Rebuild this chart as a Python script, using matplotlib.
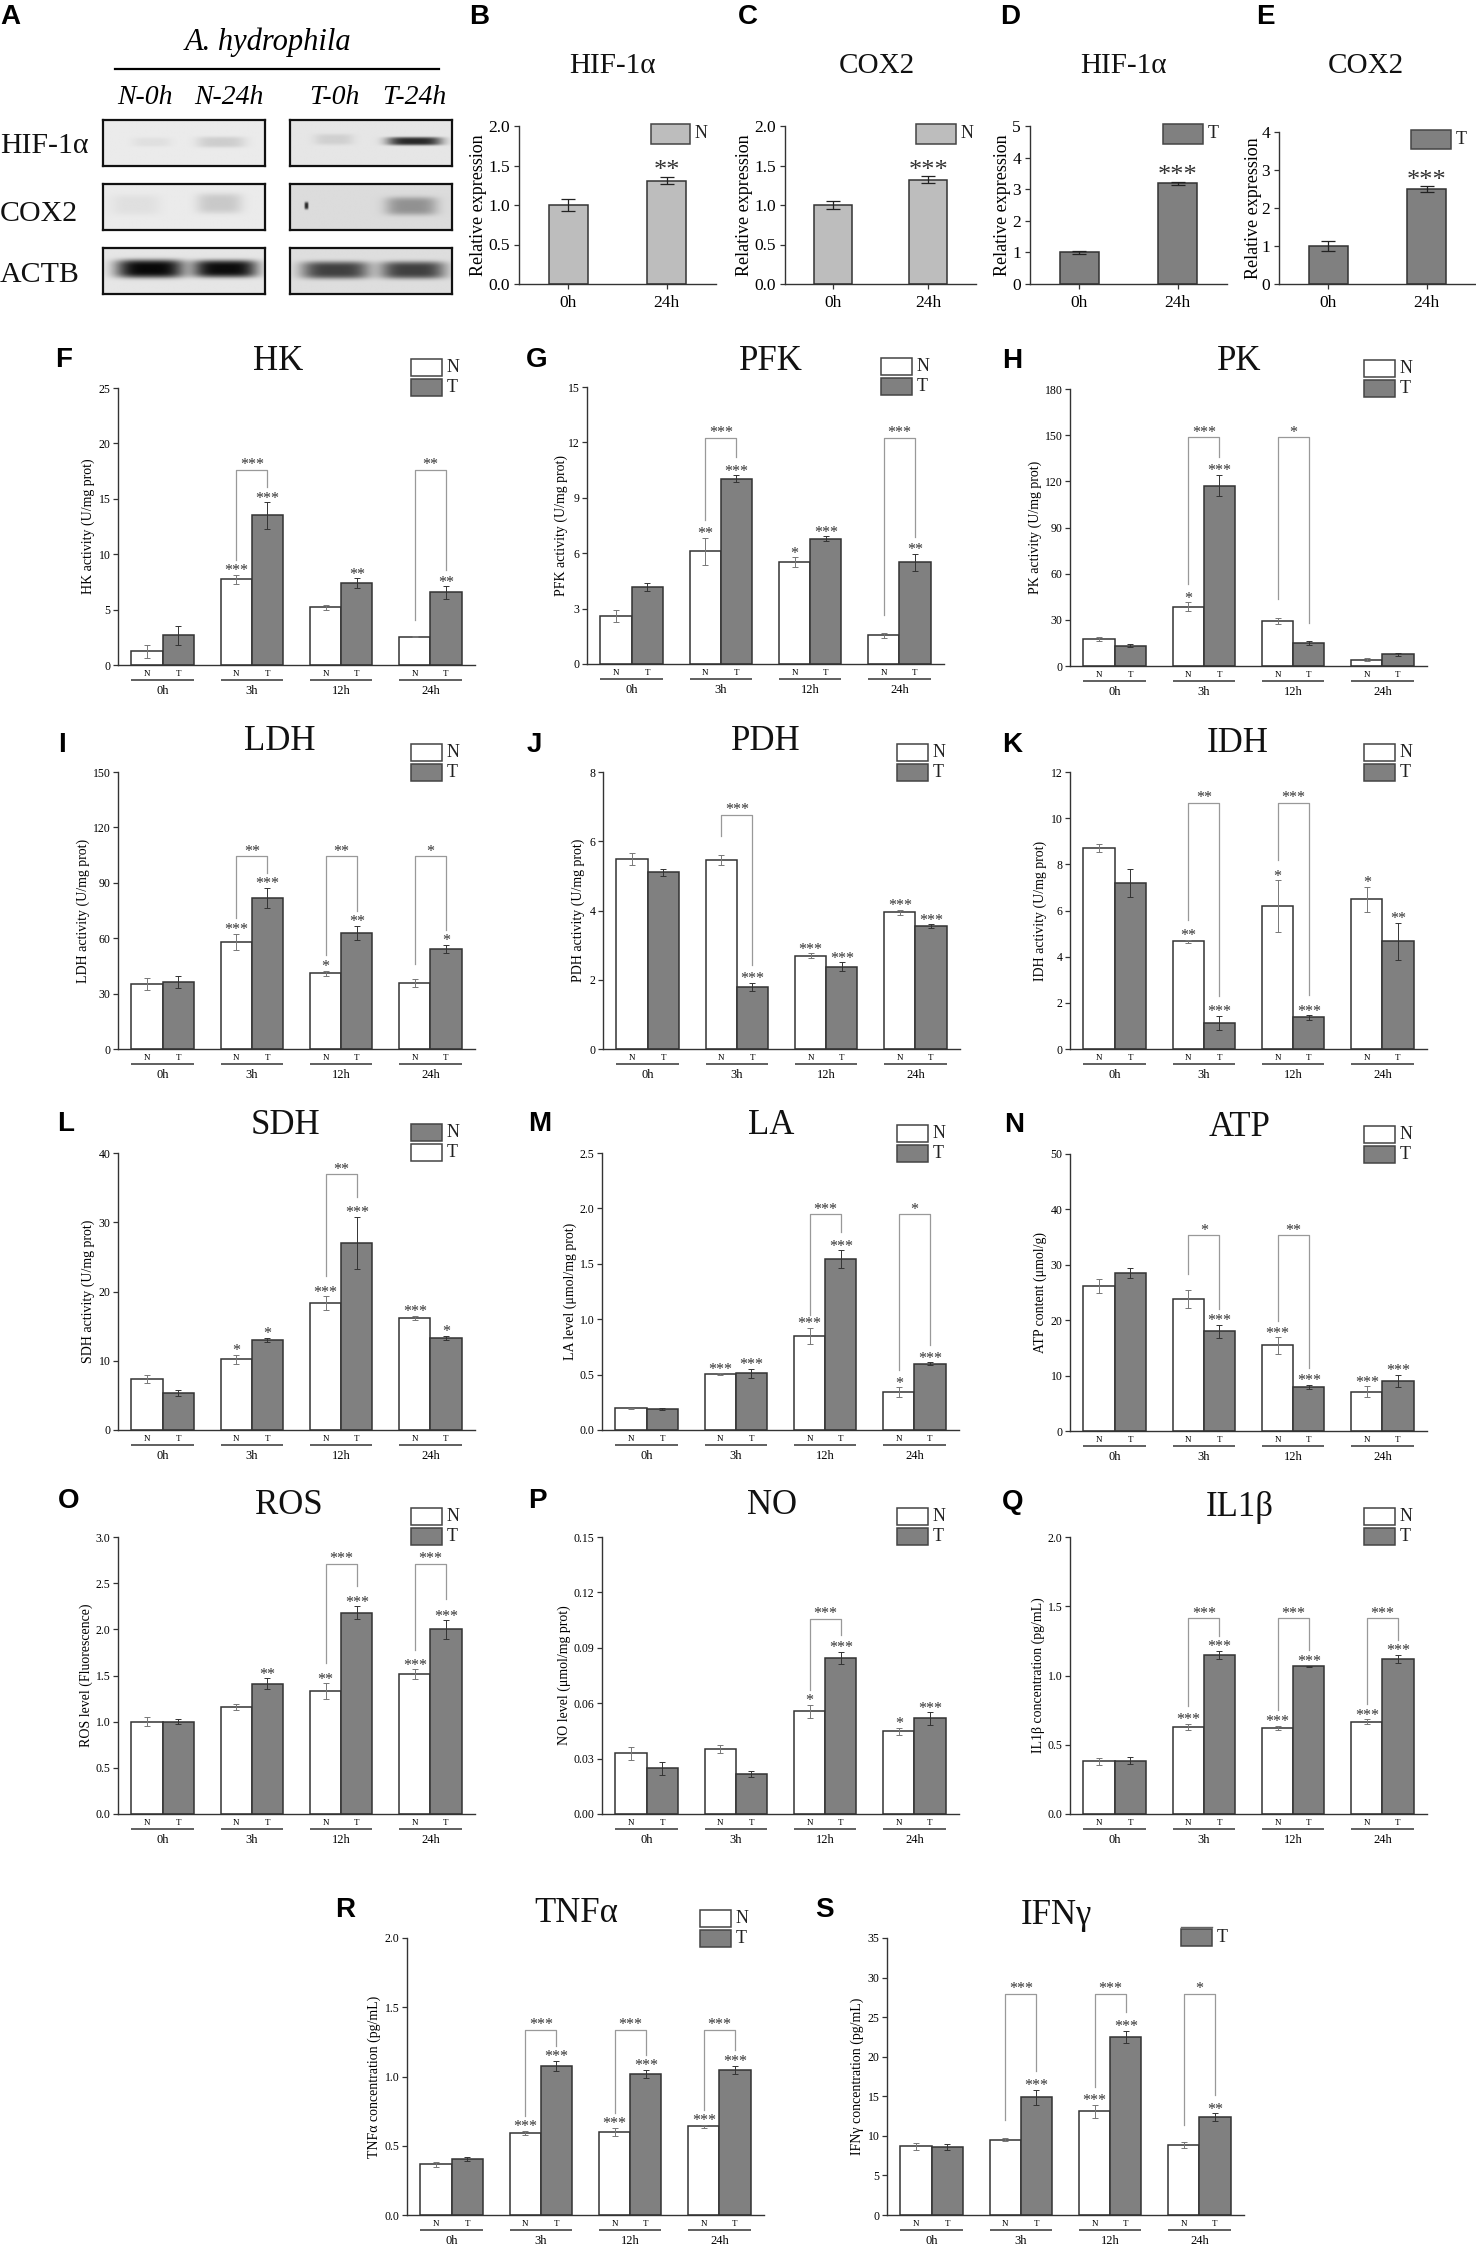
import numpy as np
import matplotlib
matplotlib.use("Agg")
import matplotlib.pyplot as plt
from matplotlib.patches import Rectangle

plt.rcParams['font.family'] = ['Liberation Serif', 'DejaVu Serif']
plt.rcParams['mathtext.default'] = 'regular'

W, H = 1476, 2244
GROUPS = ["0h", "3h", "12h", "24h"]
GRAY = "#808080"
LIGHT = "#bdbdbd"

# small expression charts B-E
b_vals, b_errs, b_sig = [1.0, 1.31], [0.07, 0.05], ["", "**"]
c_vals, c_errs, c_sig = [1.0, 1.32], [0.045, 0.045], ["", "***"]
d_vals, d_errs, d_sig = [1.0, 3.19], [0.06, 0.05], ["", "***"]
e_vals, e_errs, e_sig = [1.0, 2.5], [0.12, 0.07], ["", "***"]

# HK
hk_n = [1.25, 7.75, 5.2, 2.55]
hk_n_err = [0.6, 0.4, 0.2, 0.05]
hk_t = [2.7, 13.5, 7.4, 6.55]
hk_t_err = [0.85, 1.2, 0.45, 0.55]
hk_n_sig = ["", "***", "", ""]
hk_t_sig = ["", "***", "**", "**"]
hk_br = [(1, 17.6, 9.45, 16.1, "***"), (3, 17.6, 4.05, 8.55, "**")]
# PFK
pfk_n = [2.6, 6.1, 5.5, 1.55]
pfk_n_err = [0.3, 0.75, 0.27, 0.15]
pfk_t = [4.16, 10.03, 6.79, 5.5]
pfk_t_err = [0.22, 0.18, 0.13, 0.46]
pfk_n_sig = ["", "**", "*", ""]
pfk_t_sig = ["", "***", "***", "**"]
pfk_br = [(1, 12.25, 7.8, 11.2, "***"), (3, 12.25, 2.67, 6.9, "***")]
# PK
pk_n = [17.5, 38.5, 29.2, 4.1]
pk_n_err = [1.3, 3.0, 2.2, 1.0]
pk_t = [13.2, 117.2, 14.9, 7.6]
pk_t_err = [0.9, 7.0, 1.1, 0.8]
pk_n_sig = ["", "*", "", ""]
pk_t_sig = ["", "***", "", ""]
pk_br = [(1, 148.6, 53.5, 135.8, "***"), (2, 148.6, 43.8, 28, "*")]
# LDH
ldh_n = [35, 58, 41, 35.7]
ldh_n_err = [3.3, 4.3, 1.5, 2.2]
ldh_t = [36.5, 81.8, 62.8, 54.2]
ldh_t_err = [3.2, 5.5, 4.0, 2.2]
ldh_n_sig = ["", "***", "*", ""]
ldh_t_sig = ["", "***", "**", "*"]
ldh_br = [(1, 104.5, 71, 95.3, "**"), (2, 104.5, 51, 74.5, "**"), (3, 104.5, 46.2, 64.6, "*")]
# PDH
pdh_n = [5.48, 5.46, 2.7, 3.95]
pdh_n_err = [0.17, 0.15, 0.07, 0.07]
pdh_t = [5.11, 1.79, 2.38, 3.55]
pdh_t_err = [0.1, 0.12, 0.12, 0.05]
pdh_n_sig = ["", "", "***", "***"]
pdh_t_sig = ["", "***", "***", "***"]
pdh_br = [(1, 6.76, 6.16, 2.43, "***")]
# IDH
idh_n = [8.71, 4.66, 6.18, 6.48]
idh_n_err = [0.19, 0.07, 1.12, 0.54]
idh_t = [7.19, 1.13, 1.37, 4.66]
idh_t_err = [0.62, 0.31, 0.1, 0.8]
idh_n_sig = ["", "**", "*", "*"]
idh_t_sig = ["", "***", "***", "**"]
idh_br = [(1, 10.67, 5.6, 2.31, "**"), (2, 10.67, 8.17, 2.35, "***")]
# SDH
sdh_n = [7.4, 10.25, 18.33, 16.17]
sdh_n_err = [0.6, 0.65, 0.95, 0.35]
sdh_t = [5.39, 13.0, 27.0, 13.28]
sdh_t_err = [0.45, 0.3, 3.8, 0.3]
sdh_n_sig = ["", "*", "***", "***"]
sdh_t_sig = ["", "*", "***", "*"]
sdh_br = [(2, 36.9, 22.3, 33.7, "**")]
# LA
la_n = [0.196, 0.502, 0.848, 0.34]
la_n_err = [0.005, 0.01, 0.075, 0.045]
la_t = [0.19, 0.511, 1.543, 0.6]
la_t_err = [0.01, 0.04, 0.08, 0.01]
la_n_sig = ["", "***", "***", "*"]
la_t_sig = ["", "***", "***", "***"]
la_br = [(2, 1.946, 1.04, 1.784, "***"), (3, 1.946, 0.545, 0.77, "*")]
# ATP
atp_n = [26.2, 23.8, 15.46, 7.1]
atp_n_err = [1.25, 1.6, 1.5, 1.0]
atp_t = [28.5, 18.0, 7.94, 9.03]
atp_t_err = [0.9, 1.15, 0.4, 1.15]
atp_n_sig = ["", "", "***", "***"]
atp_t_sig = ["", "***", "***", "***"]
atp_br = [(1, 35.3, 28.4, 22, "*"), (2, 35.3, 19.8, 11.4, "**")]
# ROS
ros_n = [1.0, 1.16, 1.33, 1.516]
ros_n_err = [0.05, 0.035, 0.085, 0.05]
ros_t = [1.0, 1.41, 2.18, 2.0]
ros_t_err = [0.03, 0.06, 0.07, 0.1]
ros_n_sig = ["", "", "**", "***"]
ros_t_sig = ["", "**", "***", "***"]
ros_br = [(2, 2.71, 1.635, 2.47, "***"), (3, 2.71, 1.78, 2.33, "***")]
# NO
no_n = [0.033, 0.0352, 0.0556, 0.0448]
no_n_err = [0.0035, 0.0022, 0.0035, 0.0018]
no_t = [0.0247, 0.0218, 0.0845, 0.0518]
no_t_err = [0.0036, 0.0017, 0.0034, 0.0034]
no_n_sig = ["", "", "*", "*"]
no_t_sig = ["", "", "***", "***"]
no_br = [(2, 0.1058, 0.0673, 0.097, "***")]
# IL1b
il1_n = [0.38, 0.628, 0.623, 0.667]
il1_n_err = [0.027, 0.025, 0.015, 0.017]
il1_t = [0.385, 1.148, 1.066, 1.119]
il1_t_err = [0.024, 0.03, 0.003, 0.03]
il1_n_sig = ["", "***", "***", "***"]
il1_t_sig = ["", "***", "***", "***"]
il1_br = [(1, 1.413, 0.777, 1.287, "***"), (2, 1.413, 0.753, 1.187, "***"), (3, 1.413, 0.797, 1.259, "***")]
# TNFa
tnf_n = [0.366, 0.594, 0.6, 0.64]
tnf_n_err = [0.017, 0.015, 0.03, 0.01]
tnf_t = [0.404, 1.076, 1.02, 1.049]
tnf_t_err = [0.015, 0.036, 0.029, 0.03]
tnf_n_sig = ["", "***", "***", "***"]
tnf_t_sig = ["", "***", "***", "***"]
tnf_br = [(1, 1.336, 0.717, 1.223, "***"), (2, 1.336, 0.736, 1.158, "***"), (3, 1.336, 0.76, 1.194, "***")]
# IFNg
ifn_n = [8.68, 9.52, 13.1, 8.8]
ifn_n_err = [0.46, 0.2, 0.8, 0.38]
ifn_t = [8.59, 14.87, 22.5, 12.38]
ifn_t_err = [0.42, 0.93, 0.8, 0.5]
ifn_n_sig = ["", "", "***", ""]
ifn_t_sig = ["", "***", "***", "**"]
ifn_br = [(1, 27.97, 12.05, 18.15, "***"), (2, 27.97, 16.2, 25.6, "***"), (3, 27.97, 11.4, 15.2, "*")]

# western blot boxes: background grey, then bands (x, y, half width, half height, darkness)
blot_hif_n = (0.92, [(0.30, 0.48, 0.12, 0.10, 0.05), (0.73, 0.48, 0.15, 0.12, 0.13)])
blot_hif_t = (0.90, [(0.27, 0.42, 0.12, 0.12, 0.10), (0.77, 0.46, 0.17, 0.09, 0.85)])
blot_cox_n = (0.92, [(0.20, 0.45, 0.15, 0.22, 0.05), (0.72, 0.42, 0.14, 0.22, 0.15)])
blot_cox_t = (0.86, [(0.10, 0.47, 0.012, 0.08, 0.85), (0.75, 0.48, 0.16, 0.20, 0.35)])
blot_act_n = (0.90, [(0.29, 0.45, 0.21, 0.20, 1.0), (0.755, 0.45, 0.20, 0.19, 0.98)])
blot_act_t = (0.87, [(0.28, 0.48, 0.21, 0.19, 0.74), (0.76, 0.48, 0.20, 0.19, 0.74)])


def fx(x):
    return x / W


def fy(y):
    return 1 - y / H


fig = plt.figure(figsize=(W / 100, H / 100), dpi=100, facecolor="white")


def make_ax(left, top, right, bottom):
    ax = fig.add_axes([fx(left), fy(bottom), (right - left) / W, (bottom - top) / H])
    ax.spines["top"].set_visible(False)
    ax.spines["right"].set_visible(False)
    ax.spines["left"].set_linewidth(1.0)
    ax.spines["bottom"].set_linewidth(1.0)
    ax.spines["left"].set_color("#333333")
    ax.spines["bottom"].set_color("#333333")
    ax.patch.set_alpha(0)
    return ax


def stars(ax, x, y, txt, gap, size, color="#333333"):
    # the asterisk sits high in the em box, so shift the baseline to centre it
    off = gap * 0.72 - 0.47 * size
    ax.annotate(txt, xy=(x, y), xytext=(0, off), textcoords="offset points",
                ha="center", va="baseline", fontsize=size, color=color, annotation_clip=False)


def legend_box(x0, y0, x1, y1, color, label, size=13):
    fig.add_artist(Rectangle((fx(x0), fy(y1)), (x1 - x0) / W, (y1 - y0) / H, transform=fig.transFigure,
                             facecolor=color, edgecolor="#444444", linewidth=1.1))
    fig.text(fx(x1 + 5), fy((y0 + y1) / 2), label, fontsize=size, ha="left", va="center", color="#222222")


def title_at(x, y, txt, size=25):
    fig.text(fx(x), fy(y + 3), txt, fontsize=size, ha="center", va="center", color="#111111")


def letter(x, y, txt):
    fig.text(fx(x), fy(y + 2), txt, fontsize=20, ha="center", va="center", fontweight="bold",
             family="Liberation Sans", color="black")


def small_panel(rect, vals, errs, sig, color, ymax, step, fmt, label_gap):
    left, top, right, bottom = rect
    ax = make_ax(left, top, right, bottom)
    x = np.arange(2)
    ax.bar(x, vals, 0.4, color=color, edgecolor="#333333", linewidth=1.1)
    ax.errorbar(x, vals, yerr=errs, fmt="none", ecolor="#222222", elinewidth=0.9, capsize=5, capthick=0.9)
    for i in range(2):
        if sig[i]:
            stars(ax, x[i], vals[i] + errs[i], sig[i], 12, 19)
    ax.set_xlim(-0.5, 1.5)
    ax.set_ylim(0, ymax)
    ticks = np.arange(0, ymax + step / 2, step)
    ax.set_yticks(ticks, [fmt % t for t in ticks])
    ax.set_xticks(x, ["0h", "24h"])
    ax.tick_params(axis="both", labelsize=12.5, length=3.5, width=0.9, pad=3, color="#333333")
    ax.tick_params(axis="x", pad=4.5)
    ax.set_ylabel("Relative expression", fontsize=13)
    ax.yaxis.set_label_coords(-(label_gap - 7) / (right - left), 0.5)
    return ax


def time_panel(rect, n, n_err, t, t_err, n_sig, t_sig, brackets, ymax, step, fmt, ylabel, label_gap):
    left, top, right, bottom = rect
    ax = make_ax(left, top, right, bottom)
    hgt = bottom - top
    x = np.arange(4)
    w = 0.35
    xn = x - w / 2
    xt = x + w / 2
    ax.bar(xn, n, w, color="white", edgecolor="#333333", linewidth=1.1, zorder=2)
    ax.bar(xt, t, w, color=GRAY, edgecolor="#333333", linewidth=1.1, zorder=2)
    ax.errorbar(xn, n, yerr=n_err, fmt="none", ecolor="#777777", elinewidth=0.7, capsize=2.5, capthick=0.7, zorder=3)
    ax.errorbar(xt, t, yerr=t_err, fmt="none", ecolor="#333333", elinewidth=0.7, capsize=2.5, capthick=0.7, zorder=3)
    for i in range(4):
        if n_sig[i]:
            stars(ax, xn[i], n[i] + n_err[i], n_sig[i], 7, 11.5)
        if t_sig[i]:
            stars(ax, xt[i], t[i] + t_err[i], t_sig[i], 7, 11.5)
    for g, br_top, br_left, br_right, txt in brackets:
        ax.plot([xn[g], xn[g], xt[g], xt[g]], [br_left, br_top, br_top, br_right],
                color="#999999", linewidth=0.9, clip_on=False, zorder=1)
        stars(ax, x[g], br_top, txt, 8, 11.5)
    ax.set_xlim(-0.5, 3.5)
    ax.set_ylim(0, ymax)
    ticks = np.arange(0, ymax + step / 2, step)
    ax.set_yticks(ticks, [fmt % tk for tk in ticks])
    ax.set_xticks(np.concatenate([xn, xt]), ["N"] * 4 + ["T"] * 4)
    ax.tick_params(axis="y", labelsize=8.5, length=3.5, width=0.9, pad=2, color="#333333")
    ax.tick_params(axis="x", labelsize=6.5, length=0, pad=3.5)
    ax.set_ylabel(ylabel, fontsize=10)
    ax.yaxis.set_label_coords(-(label_gap - 5) / (right - left), 0.5)
    tr = ax.get_xaxis_transform()
    for i in range(4):
        ax.plot([x[i] - w, x[i] + w], [-15 / hgt, -15 / hgt], color="#444444", linewidth=1.2,
                transform=tr, clip_on=False, solid_capstyle="butt")
        ax.text(x[i], -26 / hgt, GROUPS[i], transform=tr, fontsize=9, ha="center", va="center")
    return ax


def blot(rect, spec):
    left, top, right, bottom = rect
    ax = fig.add_axes([fx(left), fy(bottom), (right - left) / W, (bottom - top) / H])
    yy, xx = np.mgrid[0:1:60j, 0:1:200j]
    img = np.full(xx.shape, spec[0])
    for bx, by, sx, sy, dark in spec[1]:
        img = img - (img - 0.03) * dark * np.exp(-((xx - bx) / sx) ** 4 - ((yy - by) / sy) ** 4)
    ax.imshow(img, cmap="gray", vmin=0, vmax=1, aspect="auto", interpolation="bilinear")
    ax.set_xticks([])
    ax.set_yticks([])
    for s in ax.spines.values():
        s.set_linewidth(1.6)
        s.set_color("#111111")


# panel A
blot((103, 120, 265, 166), blot_hif_n)
blot((290, 120, 452, 166), blot_hif_t)
blot((103, 184, 265, 230), blot_cox_n)
blot((290, 184, 452, 230), blot_cox_t)
blot((103, 248, 265, 294), blot_act_n)
blot((290, 248, 452, 294), blot_act_t)
fig.text(fx(268), fy(42), "A. hydrophila", fontsize=22, style="italic", ha="center", va="center")
fig.add_artist(plt.Line2D([fx(115), fx(439)], [fy(69), fy(69)], color="black", linewidth=1.6))
for cx, lab in zip([145, 229, 334, 414], ["N-0h", "N-24h", "T-0h", "T-24h"]):
    fig.text(fx(cx), fy(98), lab, fontsize=20, style="italic", ha="center", va="center")
for cy, lab in zip([146, 214, 275], ["HIF-1α", "COX2", "ACTB"]):
    fig.text(fx(0), fy(cy), lab, fontsize=21.5, ha="left", va="center", color="#111111")

# panels B-E
small_panel((519, 126, 716, 284), b_vals, b_errs, b_sig, LIGHT, 2.0, 0.5, "%.1f", 39)
small_panel((785, 126, 976, 284), c_vals, c_errs, c_sig, LIGHT, 2.0, 0.5, "%.1f", 39)
small_panel((1030, 126, 1227, 284), d_vals, d_errs, d_sig, GRAY, 5, 1, "%d", 26)
small_panel((1279, 132, 1476, 284), e_vals, e_errs, e_sig, GRAY, 4, 1, "%d", 24)
legend_box(651, 124, 690, 144, LIGHT, "N")
legend_box(916, 124, 956, 144, LIGHT, "N")
legend_box(1163, 124, 1203, 144, GRAY, "T")
legend_box(1411, 130, 1451, 149, GRAY, "T")
title_at(612, 63, "HIF-1α", 21)
title_at(877, 63, "COX2", 21)
title_at(1123, 63, "HIF-1α", 21)
title_at(1366, 63, "COX2", 21)

# panels F-S: rect, data, y scale, label
time_panel((118, 388, 475, 665), hk_n, hk_n_err, hk_t, hk_t_err, hk_n_sig, hk_t_sig, hk_br, 25, 5, "%d", "HK activity (U/mg prot)", 28)
time_panel((587, 387, 944, 664), pfk_n, pfk_n_err, pfk_t, pfk_t_err, pfk_n_sig, pfk_t_sig, pfk_br, 15, 3, "%d", "PFK activity (U/mg prot)", 24)
time_panel((1070, 389, 1427, 666), pk_n, pk_n_err, pk_t, pk_t_err, pk_n_sig, pk_t_sig, pk_br, 180, 30, "%d", "PK activity (U/mg prot)", 33)
time_panel((118, 772, 475, 1049), ldh_n, ldh_n_err, ldh_t, ldh_t_err, ldh_n_sig, ldh_t_sig, ldh_br, 150, 30, "%d", "LDH activity (U/mg prot)", 33)
time_panel((603, 772, 960, 1049), pdh_n, pdh_n_err, pdh_t, pdh_t_err, pdh_n_sig, pdh_t_sig, pdh_br, 8, 2, "%d", "PDH activity (U/mg prot)", 23)
time_panel((1070, 772, 1427, 1049), idh_n, idh_n_err, idh_t, idh_t_err, idh_n_sig, idh_t_sig, idh_br, 12, 2, "%d", "IDH activity (U/mg prot)", 28)
time_panel((118, 1153, 475, 1430), sdh_n, sdh_n_err, sdh_t, sdh_t_err, sdh_n_sig, sdh_t_sig, sdh_br, 40, 10, "%d", "SDH activity (U/mg prot)", 28)
time_panel((602, 1153, 959, 1430), la_n, la_n_err, la_t, la_t_err, la_n_sig, la_t_sig, la_br, 2.5, 0.5, "%.1f", "LA level (μmol/mg prot)", 30)
time_panel((1070, 1154, 1427, 1431), atp_n, atp_n_err, atp_t, atp_t_err, atp_n_sig, atp_t_sig, atp_br, 50, 10, "%d", "ATP content (μmol/g)", 28)
time_panel((118, 1537, 475, 1814), ros_n, ros_n_err, ros_t, ros_t_err, ros_n_sig, ros_t_sig, ros_br, 3.0, 0.5, "%.1f", "ROS level (Fluorescence)", 30)
time_panel((602, 1537, 959, 1814), no_n, no_n_err, no_t, no_t_err, no_n_sig, no_t_sig, no_br, 0.15, 0.03, "%.2f", "NO level (μmol/mg prot)", 36)
time_panel((1070, 1537, 1427, 1814), il1_n, il1_n_err, il1_t, il1_t_err, il1_n_sig, il1_t_sig, il1_br, 2.0, 0.5, "%.1f", "IL1β concentration (pg/mL)", 30)
time_panel((407, 1938, 764, 2215), tnf_n, tnf_n_err, tnf_t, tnf_t_err, tnf_n_sig, tnf_t_sig, tnf_br, 2.0, 0.5, "%.1f", "TNFα concentration (pg/mL)", 31)
time_panel((887, 1938, 1244, 2215), ifn_n, ifn_n_err, ifn_t, ifn_t_err, ifn_n_sig, ifn_t_sig, ifn_br, 35, 5, "%d", "IFNγ concentration (pg/mL)", 28)

# titles
for tx, ty, name in [(278, 358, "HK"), (771, 358, "PFK"), (1239, 358, "PK"),
                     (280, 738, "LDH"), (766, 738, "PDH"), (1238, 740, "IDH"),
                     (285, 1123, "SDH"), (771, 1123, "LA"), (1240, 1124, "ATP"),
                     (289, 1502, "ROS"), (772, 1502, "NO"), (1240, 1505, "IL1β"),
                     (576, 1911, "TNFα"), (1056, 1912, "IFNγ")]:
    title_at(tx, ty, name)

# legends of the time course panels
for lx, ly, first, second in [(411, 359, "white", GRAY), (881, 358, "white", GRAY), (1364, 360, "white", GRAY),
                              (411, 744, "white", GRAY), (897, 744, "white", GRAY), (1364, 744, "white", GRAY),
                              (411, 1124, GRAY, "white"), (897, 1125, "white", GRAY), (1364, 1126, "white", GRAY),
                              (411, 1508, "white", GRAY), (897, 1508, "white", GRAY), (1364, 1508, "white", GRAY),
                              (700, 1910, "white", GRAY)]:
    legend_box(lx, ly, lx + 31, ly + 17, first, "N")
    legend_box(lx, ly + 20, lx + 31, ly + 37, second, "T")
# IFNg only keeps the T box, with a stray line above it
legend_box(1181, 1929, 1212, 1946, GRAY, "T")
fig.add_artist(plt.Line2D([fx(1181), fx(1212)], [fy(1927), fy(1927)], color="#666666", linewidth=1))

for lx, ly, lab in [(10, 15, "A"), (479, 15, "B"), (748, 15, "C"), (1010, 15, "D"), (1265, 15, "E"),
                    (64, 358, "F"), (537, 358, "G"), (1012, 359, "H"),
                    (62, 743, "I"), (534, 743, "J"), (1012, 743, "K"),
                    (66, 1122, "L"), (540, 1122, "M"), (1014, 1123, "N"),
                    (69, 1499, "O"), (537, 1499, "P"), (1013, 1500, "Q"),
                    (345, 1908, "R"), (824, 1908, "S")]:
    letter(lx, ly, lab)

fig.savefig("out.png", dpi=100)
